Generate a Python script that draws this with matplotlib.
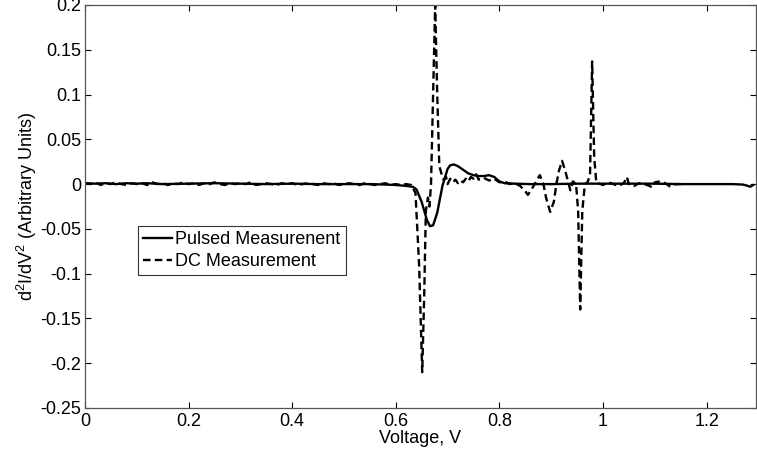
import matplotlib
matplotlib.use("Agg")
import matplotlib.pyplot as plt
import numpy as np

plt.rcParams['font.family'] = ['Liberation Sans', 'DejaVu Sans']
plt.rcParams['mathtext.fontset'] = 'custom'
plt.rcParams['mathtext.rm'] = 'Liberation Sans'
plt.rcParams['mathtext.default'] = 'regular'
plt.rcParams['axes.unicode_minus'] = False

# ---- data ----
pulsed_x = [0.0, 0.02, 0.04, 0.06, 0.08, 0.10, 0.12, 0.15, 0.20, 0.25, 0.30, 0.35,
            0.40, 0.45, 0.50, 0.55, 0.58, 0.60, 0.62, 0.633, 0.64, 0.65, 0.66, 0.666,
            0.672, 0.68, 0.69, 0.70, 0.705, 0.712, 0.72, 0.73, 0.74, 0.75, 0.76, 0.77,
            0.78, 0.79, 0.80, 0.81, 0.83, 0.86, 0.90, 0.95, 1.00, 1.05, 1.10, 1.15,
            1.20, 1.25, 1.27, 1.28, 1.284, 1.29]
pulsed_y = [0.001, 0.0005, 0.001, 0.0, 0.001, 0.0005, 0.001, 0.0, 0.0005, 0.001, 0.0005, 0.0,
            0.0005, 0.0, 0.0, 0.0, -0.0005, -0.001, -0.002, -0.003, -0.006, -0.02, -0.04, -0.047,
            -0.046, -0.032, -0.002, 0.017, 0.021, 0.022, 0.020, 0.016, 0.012, 0.010, 0.009, 0.009,
            0.010, 0.008, 0.003, 0.001, 0.0005, 0.0, 0.0, 0.0005, 0.0005, 0.0005, 0.0005, 0.0,
            0.0, 0.0, -0.0005, -0.002, -0.003, -0.001]

dc_x = [0.00, 0.01, 0.02, 0.03, 0.04, 0.05, 0.06, 0.07, 0.08, 0.09,
        0.10, 0.11, 0.12, 0.13, 0.14, 0.15, 0.16, 0.17, 0.18, 0.19,
        0.20, 0.21, 0.22, 0.23, 0.24, 0.25, 0.26, 0.27, 0.28, 0.29,
        0.30, 0.31, 0.32, 0.33, 0.34, 0.35, 0.36, 0.37, 0.38, 0.39,
        0.40, 0.41, 0.42, 0.43, 0.44, 0.45, 0.46, 0.47, 0.48, 0.49,
        0.50, 0.51, 0.52, 0.53, 0.54, 0.55, 0.56, 0.57, 0.58, 0.59,
        0.60, 0.61, 0.62, 0.63, 0.638, 0.645, 0.651, 0.655, 0.658, 0.662,
        0.665, 0.668, 0.672, 0.676, 0.680, 0.684, 0.688, 0.692, 0.697, 0.700,
        0.705, 0.710, 0.715, 0.720, 0.725, 0.730, 0.735, 0.740, 0.745, 0.750,
        0.755, 0.760, 0.770, 0.780, 0.790, 0.800, 0.810, 0.820, 0.830, 0.840,
        0.850, 0.855, 0.862, 0.870, 0.878, 0.885, 0.890, 0.898, 0.905, 0.910,
        0.915, 0.921, 0.927, 0.932, 0.937, 0.942, 0.948, 0.952, 0.956, 0.960,
        0.965, 0.970, 0.975, 0.979, 0.983, 0.987, 0.99, 1.00, 1.01, 1.02,
        1.03, 1.04, 1.046, 1.05, 1.06, 1.07, 1.08, 1.09, 1.095, 1.10,
        1.11, 1.12, 1.13, 1.14, 1.15]
dc_y = [0.001, 0.0, 0.002, -0.001, 0.001, 0.0, 0.002, 0.0, -0.001, 0.001,
        0.0, 0.001, -0.001, 0.002, 0.0, 0.001, -0.001, 0.001, 0.0, 0.002,
        0.0, 0.001, -0.001, 0.001, 0.0, 0.002, 0.0, -0.001, 0.001, 0.0,
        0.001, 0.0, 0.002, -0.001, 0.0, 0.001, 0.0, -0.001, 0.001, 0.0,
        0.001, -0.001, 0.0, 0.001, 0.0, -0.001, 0.001, 0.0, 0.001, -0.001,
        0.0, 0.001, 0.0, -0.001, 0.001, 0.0, -0.001, 0.0, 0.001, -0.001,
        0.0, -0.001, 0.0, -0.001, -0.01, -0.09, -0.21, -0.12, -0.03, -0.015,
        -0.025, 0.0, 0.10, 0.20, 0.10, 0.02, 0.012, 0.005, 0.008, 0.0,
        0.006, 0.002, 0.005, 0.001, 0.004, 0.002, 0.006, 0.003, 0.008, 0.006,
        0.011, 0.005, 0.007, 0.004, 0.006, 0.002, 0.003, 0.0, 0.001, -0.002,
        -0.008, -0.012, -0.006, 0.002, 0.010, 0.0, -0.015, -0.031, -0.020, 0.0,
        0.015, 0.026, 0.015, 0.004, -0.007, 0.003, 0.0, -0.03, -0.14, -0.03,
        0.0, 0.002, 0.01, 0.137, 0.03, 0.002, 0.001, -0.001, 0.002, 0.0,
        -0.002, 0.001, 0.008, 0.0, -0.002, 0.001, 0.0, -0.002, -0.004, 0.002,
        0.003, 0.001, -0.003, 0.0, 0.0]

legend_labels = ['Pulsed Measurenent', 'DC Measurement']
xticks = [0, 0.2, 0.4, 0.6, 0.8, 1.0, 1.2]
xtick_labels = ['0', '0.2', '0.4', '0.6', '0.8', '1', '1.2']
yticks = [-0.25, -0.2, -0.15, -0.1, -0.05, 0, 0.05, 0.1, 0.15, 0.2]
ytick_labels = ['-0.25', '-0.2', '-0.15', '-0.1', '-0.05', '0', '0.05', '0.1', '0.15', '0.2']

# ---- figure ----
fig = plt.figure(figsize=(7.57, 4.59), dpi=100)
ax = fig.add_axes([85/757, 1 - 408/459, 671/757, 403/459])

ax.plot(pulsed_x, pulsed_y, color='black', lw=1.7, label=legend_labels[0])
ax.plot(dc_x, dc_y, color='black', lw=1.7, linestyle=(0, (3.2, 1.8)), label=legend_labels[1])

ax.set_xlim(0, 671/518)
ax.set_ylim(-0.25, 0.2)
ax.set_xticks(xticks)
ax.set_xticklabels(xtick_labels)
ax.set_yticks(yticks)
ax.set_yticklabels(ytick_labels)

ax.tick_params(direction='in', length=4, width=0.8, top=True, right=True,
               labelsize=13, colors='black')
ax.tick_params(axis='x', pad=3.5)
ax.tick_params(axis='y', pad=2.5)
for s in ax.spines.values():
    s.set_color('#555555')
    s.set_linewidth(0.9)

ax.set_xlabel('Voltage, V', fontsize=13, labelpad=0)
ax.set_ylabel(r'd$^2$I/dV$^2$ (Arbitrary Units)', fontsize=13, labelpad=1)

leg = ax.legend(loc='upper left', bbox_to_anchor=((138-85)/671, (408-226)/403),
                borderaxespad=0, fancybox=False, fontsize=13, handlelength=1.6,
                handletextpad=0.15, labelspacing=0.25, borderpad=0.3, framealpha=1)
leg.get_frame().set_edgecolor('#333333')
leg.get_frame().set_linewidth(0.8)

fig.savefig('out.png', dpi=100)
